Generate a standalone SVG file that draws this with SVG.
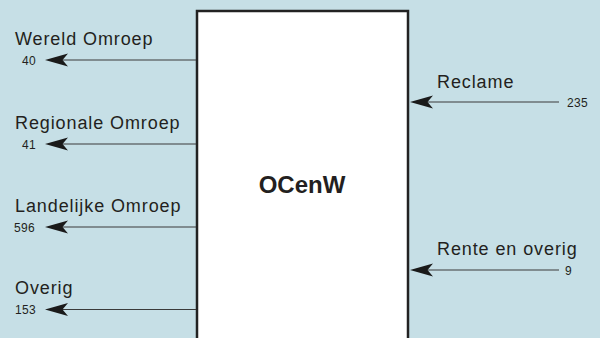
<svg xmlns="http://www.w3.org/2000/svg" width="600" height="338" viewBox="0 0 600 338">
  <style>
    .lbl { font-family: "Liberation Sans", Arial, sans-serif; font-size: 18px; letter-spacing: 0.9px; fill: #231f20; }
    .num { font-family: "Liberation Sans", Arial, sans-serif; font-size: 12px; letter-spacing: 0.3px; fill: #231f20; }
    .title { font-family: "Liberation Sans", Arial, sans-serif; font-size: 24px; font-weight: bold; fill: #231f20; }
    .ln { stroke: #3a3a3a; stroke-width: 1.2; fill: none; }
    .ah { fill: #1a1a1a; }
  </style>
  <defs>
    <path id="ah" class="ah" d="M0,0 L23,-6.5 L17.5,0 L23,6.5 Z"/>
  </defs>
  <rect x="0" y="0" width="600" height="338" fill="#c6dfe6"/>
  <g id="ocenw">
    <rect x="197" y="11" width="211" height="345" fill="#ffffff" stroke="#222222" stroke-width="2.5"/>
    <text class="title" x="302" y="193" text-anchor="middle">OCenW</text>
  </g>
  <g id="connectors">
    <line class="ln" x1="62" y1="60" x2="196" y2="60"/>
    <use href="#ah" x="45" y="60"/>
    <line class="ln" x1="62" y1="144" x2="196" y2="144"/>
    <use href="#ah" x="45" y="144"/>
    <line class="ln" x1="62" y1="227" x2="196" y2="227"/>
    <use href="#ah" x="45" y="227"/>
    <line class="ln" x1="62" y1="309.5" x2="196" y2="309.5"/>
    <use href="#ah" x="45" y="309.5"/>
    <line class="ln" x1="425" y1="102" x2="559" y2="102"/>
    <use href="#ah" x="410" y="102"/>
    <line class="ln" x1="425" y1="270" x2="559" y2="270"/>
    <use href="#ah" x="410" y="270"/>
  </g>
  <g id="wereld-omroep">
    <text class="lbl" x="15" y="45">Wereld Omroep</text>
    <text class="num" x="22" y="65">40</text>
  </g>
  <g id="regionale-omroep">
    <text class="lbl" x="15" y="129">Regionale Omroep</text>
    <text class="num" x="22" y="149">41</text>
  </g>
  <g id="landelijke-omroep">
    <text class="lbl" x="15" y="212">Landelijke Omroep</text>
    <text class="num" x="14" y="232">596</text>
  </g>
  <g id="overig">
    <text class="lbl" x="15" y="293.5">Overig</text>
    <text class="num" x="15" y="314">153</text>
  </g>
  <g id="reclame">
    <text class="lbl" x="437" y="88">Reclame</text>
    <text class="num" x="567" y="106.5">235</text>
  </g>
  <g id="rente-en-overig">
    <text class="lbl" x="437" y="255">Rente en overig</text>
    <text class="num" x="565" y="274.5">9</text>
  </g>
</svg>
